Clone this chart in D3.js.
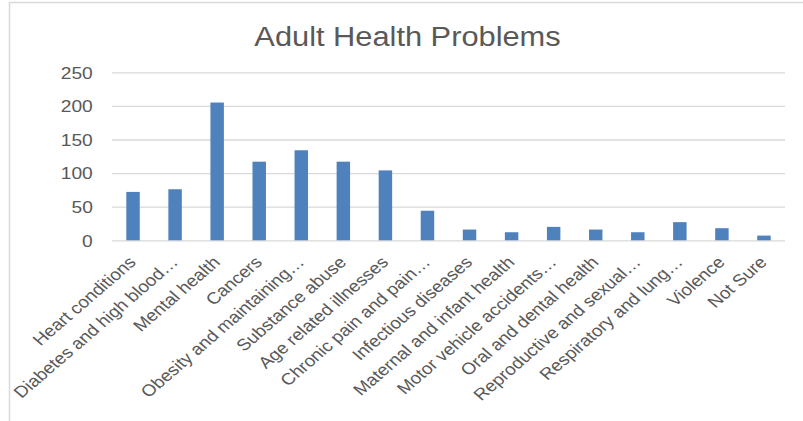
<!DOCTYPE html>
<html>
<head>
<meta charset="utf-8">
<script src="https://cdn.jsdelivr.net/npm/d3@7/dist/d3.min.js"></script>
<style>
  html, body { margin: 0; padding: 0; background: #fff; }
  svg { display: block; font-family: "Liberation Sans", Arial, sans-serif; }
</style>
</head>
<body>
<svg id="chart" width="803" height="421"></svg>
<script>
const categories = [
  "Heart conditions", "Diabetes and high blood…", "Mental health", "Cancers",
  "Obesity and maintaining…", "Substance abuse", "Age related illnesses",
  "Chronic pain and pain…", "Infectious diseases", "Maternal and infant health",
  "Motor vehicle accidents…", "Oral and dental health", "Reproductive and sexual…",
  "Respiratory and lung…", "Violence", "Not Sure"
];
const values = [72, 76, 205, 117, 134, 117, 104, 44, 16, 12, 20, 16, 12, 27, 18, 7];
const yTicks = [0, 50, 100, 150, 200, 250];
const title = "Adult Health Problems";

(function () {
const svg = d3.select("#chart");
const textColor = "#595959";
const gridColor = "#d9d9d9";
const barColor = "#4f81bd";
const sx = 1.2; // horizontal stretch of glyphs seen in the reference

// Chart border
svg.append("rect")
  .attr("x", 9.5).attr("y", 2.5)
  .attr("width", 820).attr("height", 440)
  .attr("fill", "#fff").attr("stroke", gridColor).attr("stroke-width", 1.5);

const pLeft = 112, pRight = 785, pTop = 72.3, pBottom = 240.3;

const x = d3.scaleBand().domain(categories).range([pLeft, pRight])
  .paddingInner(0.68).paddingOuter(0.34);
const y = d3.scaleLinear().domain([0, 250]).range([pBottom, pTop]);

// Title
svg.append("text")
  .attr("transform", `translate(407.5,46) scale(1.1,1)`)
  .attr("text-anchor", "middle")
  .attr("fill", textColor)
  .attr("font-size", 28)
  .text(title);

// Gridlines
const grid = svg.append("g")
  .attr("transform", `translate(${pLeft},0)`)
  .call(d3.axisLeft(y).tickValues(yTicks).tickSize(-(pRight - pLeft)).tickFormat(""));
grid.select(".domain").remove();
grid.selectAll(".tick line").attr("stroke", gridColor).attr("stroke-width", 1.3);

// Y axis labels
const yAxis = svg.append("g")
  .attr("transform", `translate(${pLeft},0)`)
  .call(d3.axisLeft(y).tickValues(yTicks).tickSize(0).tickPadding(0));
yAxis.select(".domain").remove();
yAxis.selectAll(".tick text")
  .attr("x", -16)
  .attr("dy", "0.36em")
  .attr("transform", `scale(${sx},1)`)
  .attr("fill", textColor)
  .attr("font-size", 16)
  .attr("font-family", "Liberation Sans, Arial, sans-serif");

// Bars
svg.append("g").selectAll("rect")
  .data(categories.map((c, i) => ({c, v: values[i]})))
  .join("rect")
  .attr("x", d => x(d.c))
  .attr("width", x.bandwidth())
  .attr("y", d => y(d.v))
  .attr("height", d => y(0) - y(d.v))
  .attr("fill", barColor);

// X axis labels
const xAxis = svg.append("g")
  .attr("transform", `translate(0,${pBottom})`)
  .call(d3.axisBottom(x).tickSize(0).tickPadding(0));
xAxis.select(".domain").remove();
xAxis.selectAll(".tick text")
  .attr("x", 0).attr("y", 0).attr("dy", 0)
  .attr("text-anchor", "end")
  .attr("transform", `translate(4,23) scale(1.16,1) rotate(-45)`)
  .attr("fill", textColor)
  .attr("font-size", 16.3)
  .attr("font-family", "Liberation Sans, Arial, sans-serif");
})();
</script>
</body>
</html>
